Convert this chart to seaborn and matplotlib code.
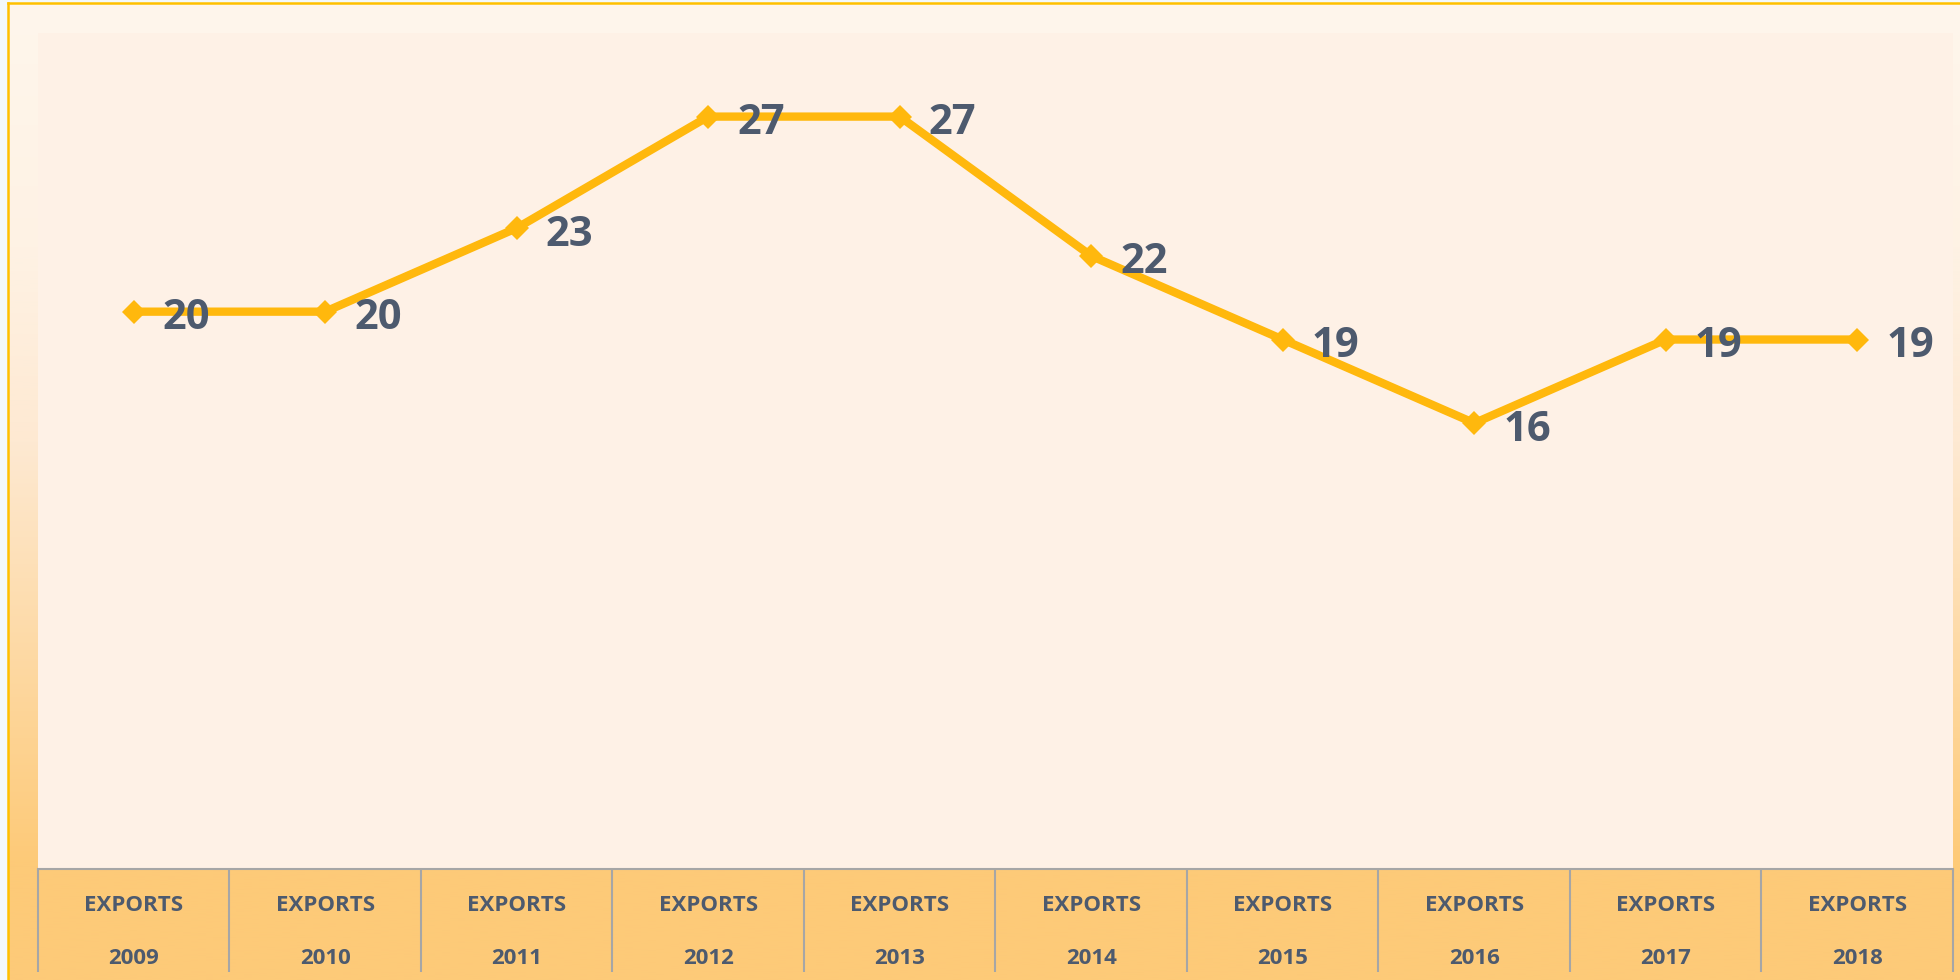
import numpy as np
import matplotlib
matplotlib.use("Agg")
import matplotlib.pyplot as plt
import matplotlib.colors as mcolors
import seaborn as sns
import pandas as pd

# data
years = [2009, 2010, 2011, 2012, 2013, 2014, 2015, 2016, 2017, 2018]
exports = [20, 20, 23, 27, 27, 22, 19, 16, 19, 19]
tick_labels = ["EXPORTS\n2009", "EXPORTS\n2010", "EXPORTS\n2011", "EXPORTS\n2012",
               "EXPORTS\n2013", "EXPORTS\n2014", "EXPORTS\n2015", "EXPORTS\n2016",
               "EXPORTS\n2017", "EXPORTS\n2018"]

df = pd.DataFrame({"year": years, "exports": exports})

sns.set_style("white")
plt.rcParams["font.family"] = ["Open Sans", "DejaVu Sans"]

line_color = "#FFB80D"
text_color = "#4D5A6E"
grid_gray = "#A6A6A6"

W, H = 1960, 980
fig = plt.figure(figsize=(19.6, 9.8), dpi=100, facecolor="#F3F9FB")

# chart-area background: cream at top fading to orange at the bottom
bg = fig.add_axes([8 / W, 0, 1 - 8 / W, 1 - 3 / H], zorder=-5)
cmap = mcolors.LinearSegmentedColormap.from_list(
    "bg", [(0.0, "#FFF6EC"), (0.25, "#FEF2E4"), (0.45, "#FEE9D2"),
           (0.88, "#FDCA78"), (1.0, "#FDCA78")])
grad = np.linspace(0, 1, 400).reshape(-1, 1)
bg.imshow(grad, aspect="auto", cmap=cmap, extent=[0, 1, 0, 1], origin="upper")
bg.set_xticks([])
bg.set_yticks([])
for s in ["right", "bottom"]:
    bg.spines[s].set_visible(False)
for s in ["left", "top"]:
    bg.spines[s].set_color("#FFC000")
    bg.spines[s].set_linewidth(1.8)

# plot area
ax = fig.add_axes([38 / W, (H - 869) / H, (1953 - 38) / W, (869 - 33) / H])
ax.set_facecolor("#FEF1E6")

sns.lineplot(data=df, x="year", y="exports", ax=ax, color=line_color,
             linewidth=6, marker="D", markersize=12.5, markeredgewidth=0,
             zorder=3)

for x, v in zip(years, exports):
    ax.annotate(str(v), (x, v), xytext=(21, -5), textcoords="offset points",
                ha="left", va="center", fontsize=30, fontweight="bold",
                color=text_color, zorder=4)

ax.set_xlim(years[0] - 0.5, years[-1] + 0.5)
ax.set_ylim(0, 30)
ax.set_yticks([])
ax.set_xlabel("")
ax.set_ylabel("")

ax.set_xticks(years)
ax.set_xticklabels(tick_labels, fontsize=16, fontweight="bold", color=text_color,
                   linespacing=2.95)
ax.tick_params(axis="x", which="major", bottom=False, length=0, pad=19)
ax.set_xticks(np.arange(years[0] - 0.5, years[-1] + 1), minor=True)
ax.tick_params(axis="x", which="minor", bottom=True, length=74, width=1.5,
               color=grid_gray, direction="out")

for s in ["left", "right", "top"]:
    ax.spines[s].set_visible(False)
ax.spines["bottom"].set_color(grid_gray)
ax.spines["bottom"].set_linewidth(1.5)

fig.savefig("out.png", dpi=100, facecolor=fig.get_facecolor())
